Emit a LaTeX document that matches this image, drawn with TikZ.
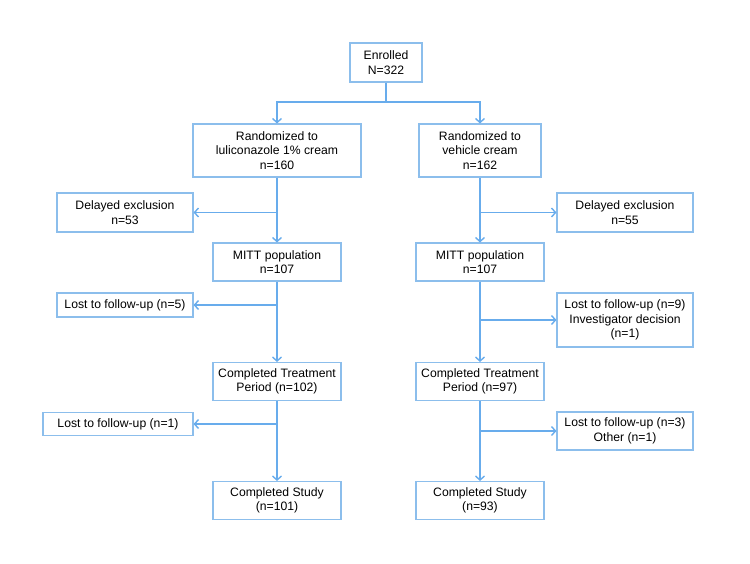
\documentclass[tikz,border=0pt]{standalone}
\usepackage{fontspec}
\setmainfont{Liberation Sans}
\usetikzlibrary{arrows.meta}
\definecolor{boxblue}{RGB}{140,190,236}
\definecolor{arrblue}{RGB}{104,172,236}

\begin{document}
\begin{tikzpicture}
[x=1pt,y=-1pt,%
  box/.style={shape=rectangle,draw=boxblue,line width=1.1pt,inner sep=0pt,align=center,
    font=\fontsize{12.2}{14.4}\selectfont,minimum height=38pt},%
  arr/.style={draw=arrblue,line width=1.4pt,-{Straight Barb[length=4pt,width=9pt,line width=1.4pt]}},%
  line/.style={draw=arrblue,line width=1.4pt}]
\useasboundingbox (0,0) rectangle (750,563);
% top
\node[box,minimum width=72pt,minimum height=39pt] (enr) at (386,62.5) {Enrolled\\N=322};
\node[box,minimum width=168pt,minimum height=53pt] (randL) at (277,150.5)
  {Randomized to\\luliconazole 1\% cream\\n=160};
\node[box,minimum width=122pt,minimum height=53pt] (randR) at (480,150.5)
  {Randomized to\\vehicle cream\\n=162};
% left arm
\node[box,minimum width=136pt,minimum height=39pt] (exclL) at (125,212.5) {Delayed exclusion\\n=53};
\node[box,minimum width=128pt] (mittL) at (277,262) {MITT population\\n=107};
\node[box,minimum width=136pt,minimum height=24pt] (lost5) at (125,305) {Lost to follow-up (n=5)};
\node[box,minimum width=128pt] (ctpL) at (277,381.5) {Completed Treatment\\Period (n=102)};
\node[box,minimum width=150pt,minimum height=23pt] (lost1) at (118,424) {Lost to follow-up (n=1)};
\node[box,minimum width=128pt] (csL) at (277,500.5) {Completed Study\\(n=101)};
% right arm
\node[box,minimum width=136pt,minimum height=39pt] (exclR) at (625,212.5) {Delayed exclusion\\n=55};
\node[box,minimum width=128pt] (mittR) at (480,262) {MITT population\\n=107};
\node[box,minimum width=136pt,minimum height=54pt] (lost9) at (625,320)
  {Lost to follow-up (n=9)\\Investigator decision\\(n=1)};
\node[box,minimum width=128pt] (ctpR) at (480,381.5) {Completed Treatment\\Period (n=97)};
\node[box,minimum width=136pt,minimum height=38pt] (lost3) at (625,431)
  {Lost to follow-up (n=3)\\Other (n=1)};
\node[box,minimum width=128pt] (csR) at (480,500.5) {Completed Study\\(n=93)};
% connectors
\coordinate (split) at (386,102);
\draw[line] (enr.south) -- (split);
\draw[arr] (split) -| (randL.north);
\draw[arr] (split) -| (randR.north);
\draw[arr] (randL.south) -- (mittL.north);
\draw[arr] (mittL.south) -- (ctpL.north);
\draw[arr] (ctpL.south) -- (csL.north);
\draw[arr] (randR.south) -- (mittR.north);
\draw[arr] (mittR.south) -- (ctpR.north);
\draw[arr] (ctpR.south) -- (csR.north);
\draw[arr] (randL.south |- exclL.east) -- (exclL.east);
\draw[arr] (mittL.south |- lost5.east) -- (lost5.east);
\draw[arr] (ctpL.south |- lost1.east) -- (lost1.east);
\draw[arr] (randR.south |- exclR.west) -- (exclR.west);
\draw[arr] (mittR.south |- lost9.west) -- (lost9.west);
\draw[arr] (ctpR.south |- lost3.west) -- (lost3.west);
\end{tikzpicture}
\end{document}
